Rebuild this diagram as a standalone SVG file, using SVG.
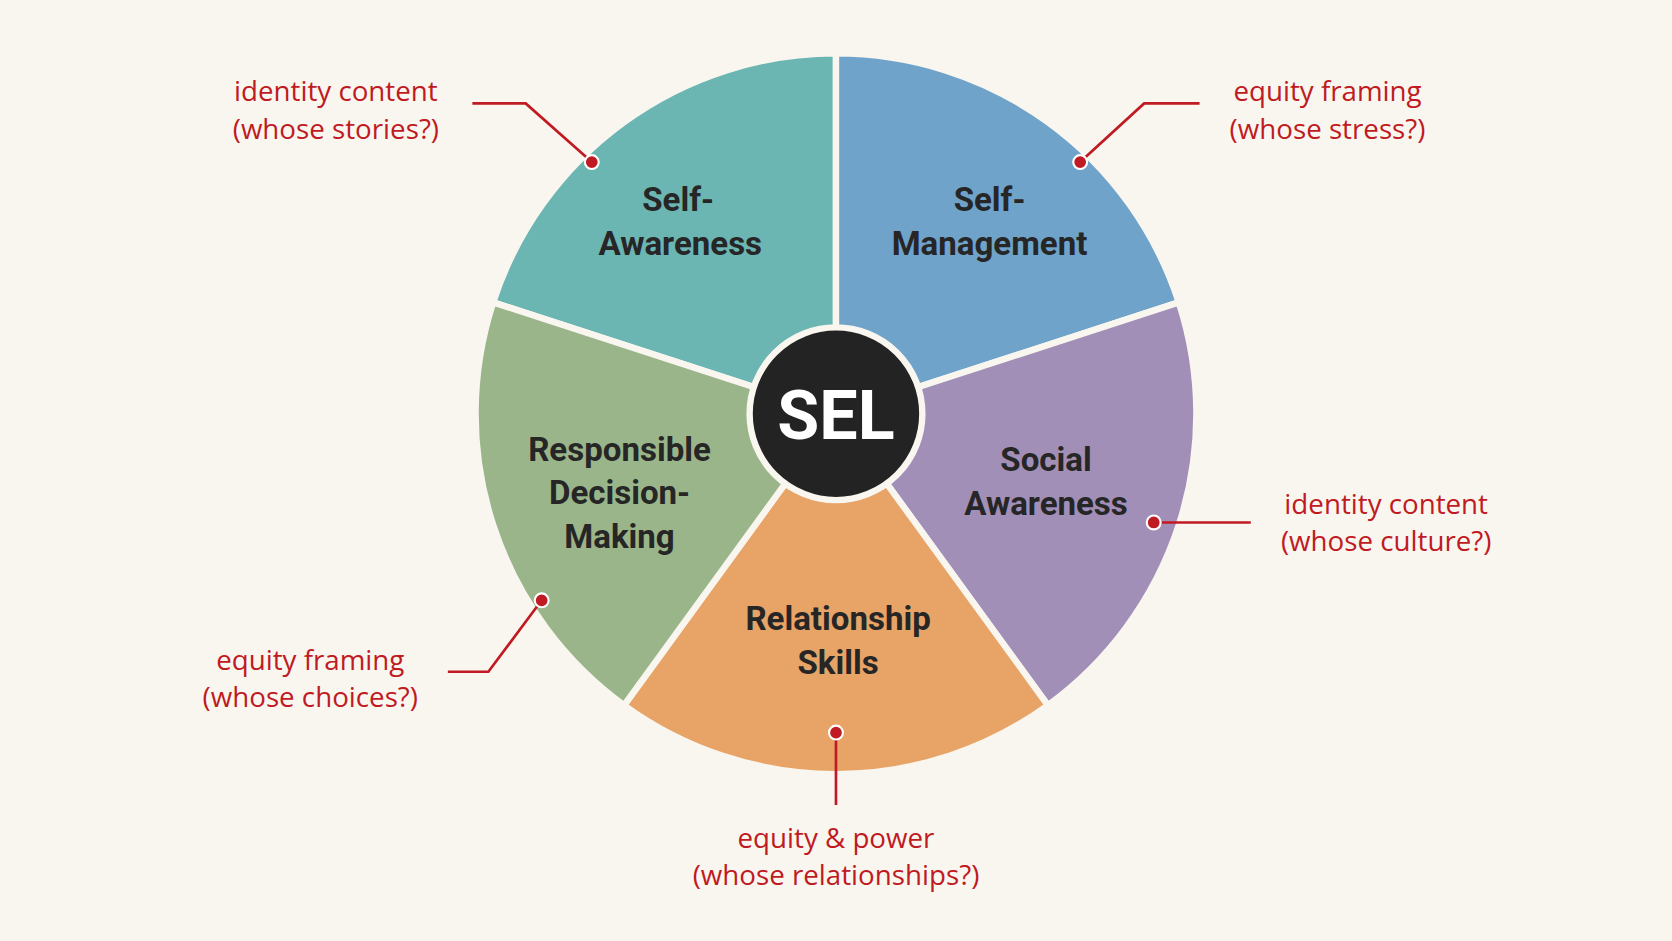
<svg xmlns="http://www.w3.org/2000/svg" width="1672" height="941" viewBox="0 0 1672 941">
<style>
.w{stroke:#f9f6f0;stroke-width:6;stroke-linejoin:round}
.l{font-family:Roboto,"Liberation Sans",sans-serif;font-weight:bold;font-size:31px;fill:#262626;text-anchor:middle}
.a{font-family:"Open Sans","Liberation Sans",sans-serif;font-size:26px;fill:#c01a22;text-anchor:middle}
.c{fill:none;stroke:#c01a22;stroke-width:2.5}
.d{fill:#c01a22;stroke:#fff;stroke-width:2}
</style>
<rect width="1672" height="941" fill="#f9f6f0"/>
<g transform="scale(1.0663)">
<g id="self-awareness"><path class="w" fill="#6bb5b3" d="M784 388 L462.5 283.6 A338 338 0 0 1 784 50 Z"/><text class="l" x="636" y="198">Self-</text><text class="l" x="638" y="239">Awareness</text></g>
<g id="self-management"><path class="w" fill="#6fa3c9" d="M784 388 L784 50 A338 338 0 0 1 1105.5 283.6 Z"/><text class="l" x="928" y="198">Self-</text><text class="l" x="928" y="239">Management</text></g>
<g id="social-awareness"><path class="w" fill="#a28fb8" d="M784 388 L1105.5 283.6 A338 338 0 0 1 982.7 661.4 Z"/><text class="l" x="981" y="442">Social</text><text class="l" x="981" y="483">Awareness</text></g>
<g id="relationship-skills"><path class="w" fill="#e8a366" d="M784 388 L982.7 661.4 A338 338 0 0 1 585.3 661.4 Z"/><text class="l" x="786" y="591">Relationship</text><text class="l" x="786" y="632">Skills</text></g>
<g id="responsible-decision-making"><path class="w" fill="#9bb58a" d="M784 388 L585.3 661.4 A338 338 0 0 1 462.5 283.6 Z"/><text class="l" x="581" y="432">Responsible</text><text class="l" x="581" y="473">Decision-</text><text class="l" x="581" y="514">Making</text></g>
<g id="sel"><circle cx="784" cy="388" r="81" fill="#232323" stroke="#f9f6f0" stroke-width="6"/><text x="784" y="412" font-family="Roboto,'Liberation Sans',sans-serif" font-weight="bold" font-size="64" fill="#fff" text-anchor="middle">SEL</text></g>
<g id="connectors">
<path class="c" d="M443 97 H493 L555 152"/><circle class="d" cx="555" cy="152" r="6.5"/>
<path class="c" d="M1125 97 H1073 L1013 152"/><circle class="d" cx="1013" cy="152" r="6.5"/>
<path class="c" d="M1173 490 H1082"/><circle class="d" cx="1082" cy="490" r="6.5"/>
<path class="c" d="M784 687 V755"/><circle class="d" cx="784" cy="687" r="6.5"/>
<path class="c" d="M420 630 H458 L508 563"/><circle class="d" cx="508" cy="563" r="6.5"/>
</g>
<g id="annotations">
<text class="a" x="315" y="95">identity content</text><text class="a" x="315" y="130">(whose stories?)</text>
<text class="a" x="1245" y="95">equity framing</text><text class="a" x="1245" y="130">(whose stress?)</text>
<text class="a" x="1300" y="482">identity content</text><text class="a" x="1300" y="517">(whose culture?)</text>
<text class="a" x="784" y="795">equity &amp; power</text><text class="a" x="784" y="830">(whose relationships?)</text>
<text class="a" x="291" y="628">equity framing</text><text class="a" x="291" y="663">(whose choices?)</text>
</g>
</g>
</svg>
